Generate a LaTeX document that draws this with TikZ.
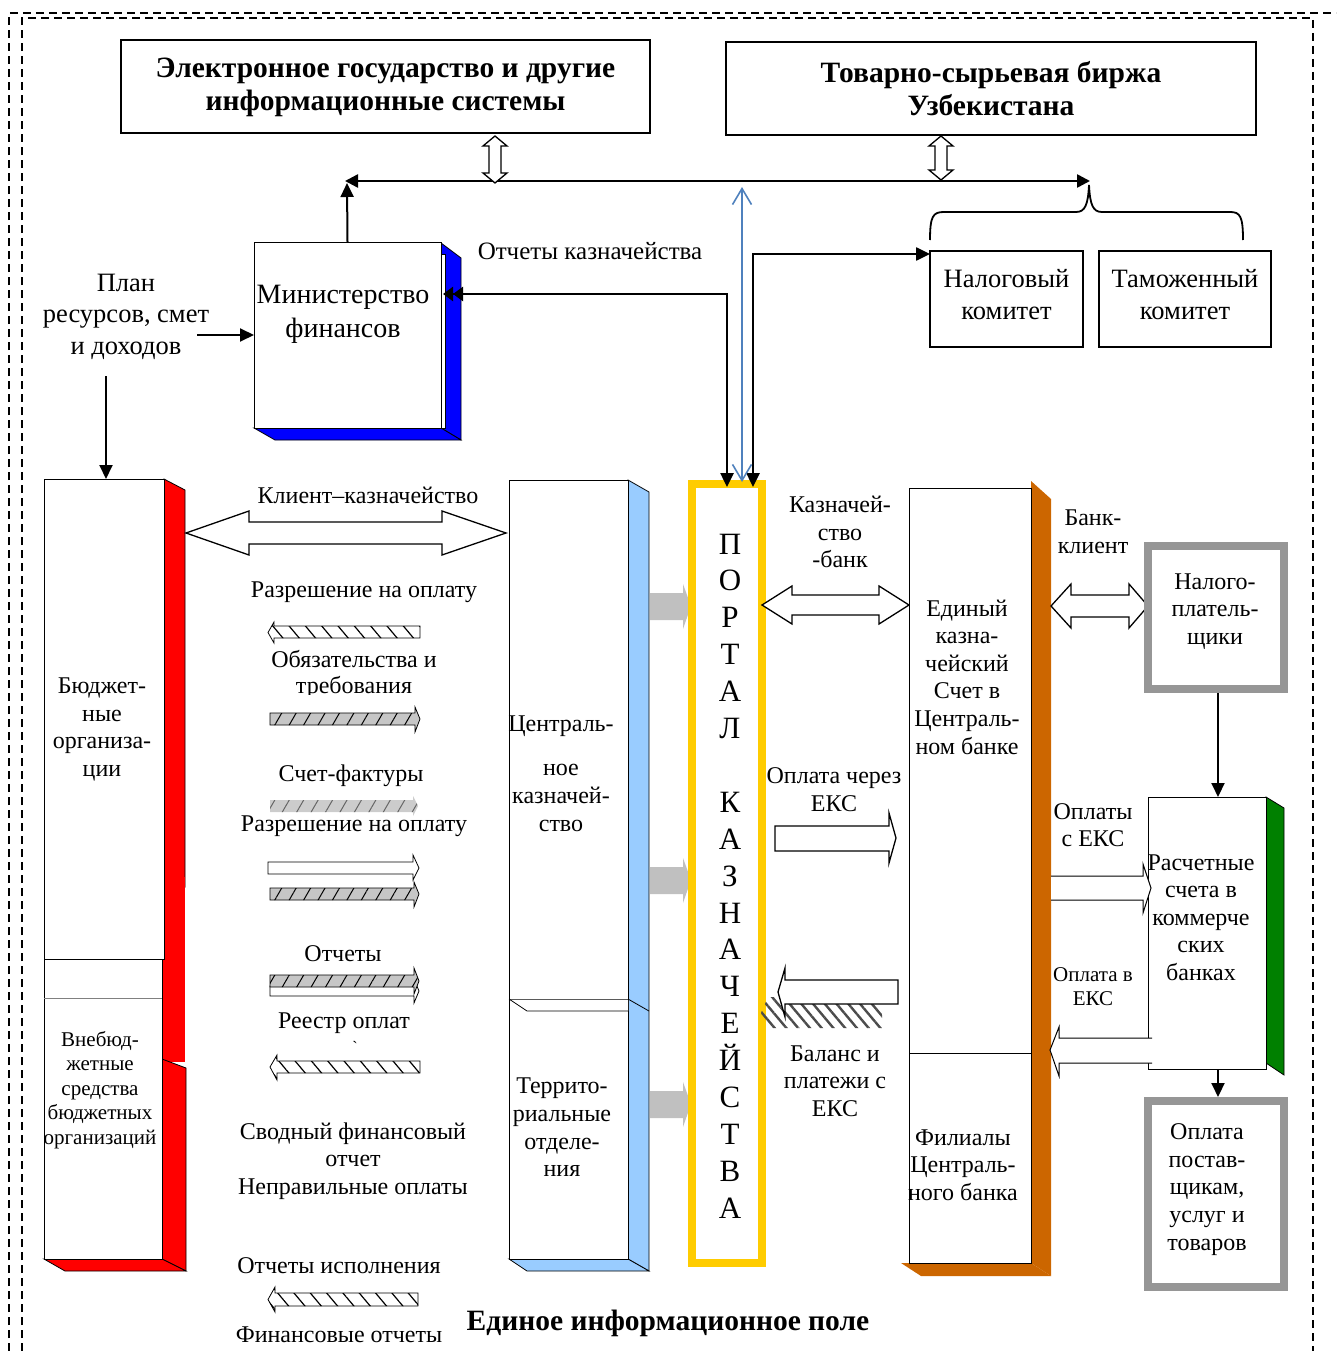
\documentclass[tikz,border=0pt]{standalone}
\usepackage{fontspec}
\setmainfont{Liberation Serif}
\newfontfamily\plainf{Liberation Serif}
\usetikzlibrary{arrows.meta,patterns.meta}
\definecolor{yel}{HTML}{FFCC00}
\definecolor{lblue}{HTML}{99CCFF}
\definecolor{orng}{HTML}{CC6600}
\definecolor{grn}{HTML}{008000}
\definecolor{mblue}{HTML}{0000FF}
\definecolor{bline}{HTML}{4F81BD}
\definecolor{gbox}{HTML}{969696}
\definecolor{garr}{HTML}{C0C0C0}
\tikzset{
  every node/.style={inner sep=0pt, outer sep=0pt},
  f24/.style={align=center, font=\fontsize{24}{27.6}\selectfont},
  f21/.style={align=center, font=\fontsize{21}{24.5}\selectfont},
  f27/.style={align=center, font=\fontsize{26.5}{31.5}\selectfont},
  f28/.style={align=center, font=\fontsize{28}{34}\selectfont},
  f25/.style={align=center, font=\fontsize{25}{29}\selectfont},
  fB/.style={align=center, font=\fontsize{29.5}{33}\selectfont\bfseries},
  fP/.style={align=center, font=\fontsize{31}{36.9}\selectfont},
  tbox/.style={draw, line width=2pt},
  cbox/.style={draw, line width=1.8pt},
  face/.style={draw=black, line width=0.8pt, fill=white},
  side/.style={draw=black, line width=0.8pt},
  thickbox/.style={draw=gbox, line width=8pt},
  conn/.style={line width=2.5pt},
  hollow/.style={draw=black, line width=1.3pt, fill=white},
  tri/.tip={Triangle[length=14pt,width=13pt]},
  arr/.style={line width=2pt, -tri},
  hatR/.style={fill=gray!45, draw=black, line width=0.8pt,
     postaction={pattern={Lines[angle=60,distance=12.5pt,line width=1pt]}}},
  hatL/.style={fill=white, draw=black, line width=0.8pt,
     postaction={pattern={Lines[angle=-50,distance=12.5pt,line width=1.2pt]}}},
  frame/.style={line width=1.2pt, dash pattern=on 8pt off 5pt},
}
\begin{document}
\begin{tikzpicture}[x=1pt,y=-1pt]
\useasboundingbox (0,0) rectangle (1336,1351);

% ---------- dashed frame
\draw[frame] (9,1351) -- (9,13) -- (1336,13);
\draw[frame] (22,1351) -- (22,18) -- (1313,18) -- (1313,1351);

% ---------- top boxes
\node[tbox, minimum width=529, minimum height=93] (egov) at (385.5,86.5) {};
\node[fB] (egov-t) at (385.5,87) {Электронное государство и другие\\информационные системы};
\node[tbox, minimum width=530, minimum height=93] (birzha) at (991,88.5) {};
\node[fB] (birzha-t) at (991,89) {Товарно-сырьевая биржа\\Узбекистана};

% ---------- top bus
\coordinate (busL) at (345,181);
\coordinate (busR) at (1090,181);
\draw[conn, {Triangle[length=13pt,width=13pt]}-{Triangle[length=13pt,width=13pt]}] (busL) -- (busR);

% hollow vertical double arrows
\draw[hollow] (495,136) -- (507,146) -- (501,146) -- (501,173) -- (507,173) -- (495,183)
   -- (483,173) -- (489,173) -- (489,146) -- (483,146) -- cycle;
\draw[hollow] (941,136) -- (953,146) -- (947,146) -- (947,170) -- (953,170) -- (941,180)
   -- (929,170) -- (935,170) -- (935,146) -- (929,146) -- cycle;

% brace
\draw[line width=1.8pt] (930,240) .. controls (930,216) and (933,212) .. (944,212)
   -- (1076,212) .. controls (1085,212) and (1088,205) .. (1089,185)
   .. controls (1090,205) and (1093,212) .. (1102,212)
   -- (1230,212) .. controls (1240,212) and (1243,216) .. (1243,240);

% committees
\node[cbox, minimum width=153, minimum height=96] (nalog) at (1006.5,299) {};
\node[f27] (nalog-t) at (1006.5,294.5) {Налоговый\\комитет};
\node[cbox, minimum width=172, minimum height=96] (tamozh) at (1185,299) {};
\node[f27] (tamozh-t) at (1185,294.5) {Таможенный\\комитет};

% ---------- Ministry of finance (3D)
\fill[mblue, side] (441,243) -- (461,258) -- (461,440) -- (441,428) -- cycle;
\fill[mblue, side] (254,428) -- (441,428) -- (461,440) -- (275,440) -- cycle;
\filldraw[fill=white, draw=black, line width=0.6pt] (441,254) rectangle (445.5,428);
\node[face, minimum width=187, minimum height=186] (minfin) at (347.5,335) {};
\node[f28] (minfin-t) at (343,314) {Министерство\\финансов};
\draw[arr] (minfin.north) -- (347,183);

% plan
\node[f27] (plan) at (126,316.5) {План\\ресурсов, смет\\и доходов};
\coordinate (planR) at (197,335);
\draw[arr] (planR) -- (minfin.west);
\coordinate (planD) at (106,376);

% ---------- Budget organisations (3D, red)
\fill[red, side] (164,479) -- (185,490) -- (185,887) -- (164,877) -- cycle;
\fill[red] (162,877) rectangle (185,1062);
\fill[red, side] (162,1059) -- (186,1068) -- (186,1271) -- (162,1259) -- cycle;
\fill[red, side] (44,1259) -- (162,1259) -- (186,1271) -- (65,1271) -- cycle;
\node[face, minimum width=120, minimum height=480] (budget) at (104,719) {};
\node[face, minimum width=118, minimum height=300] (extra) at (103,1109) {};
\draw[gray, line width=0.8pt] (44,998) -- (162,998);
\node[f24] (budget-t) at (102,729.5) {Бюджет-\\ные\\организа-\\ции};
\node[f21] (extra-t) at (100,1090) {Внебюд-\\жетные\\средства\\бюджетных\\организаций};
\draw[arr] (planD) -- (106,479);

% ---------- Central treasury (3D, light blue)
\fill[lblue, side] (628,480) -- (649,492) -- (649,1271) -- (628,1259) -- cycle;
\fill[lblue, side] (509,1259) -- (628,1259) -- (649,1271) -- (527,1271) -- cycle;
\node[face, minimum width=119, minimum height=519] (ctreas) at (568.5,739.5) {};
\node[face, minimum width=119, minimum height=260] (terr) at (568.5,1129) {};
\fill[white] (509.5,999.5) -- (628,999.5) -- (628,1011) -- (527,1011) -- cycle;
\draw[line width=0.8pt] (509,999) -- (527,1011) -- (628,1011);
\draw[line width=0.8pt] (628,999) -- (649,1011);
\node[f24] (ctreas-t1) at (561,726) {Централь-};
\node[f24] (ctreas-t2) at (561,798) {ное\\казначей-\\ство};
\node[f24] (terr-t) at (562,1127.5) {Террито-\\риальные\\отделе-\\ния};

% gray block arrows into portal
\foreach \yy in {606,880,1104}{
  \fill[garr] (650,\yy-13) -- (683,\yy-13) -- (683,\yy-22) -- (691,\yy) -- (683,\yy+23)
     -- (683,\yy+14) -- (650,\yy+14) -- cycle;
}

% ---------- Client - treasury
\node[f24] (kk) at (368,495) {Клиент–казначейство};
\draw[hollow] (186,533) -- (249,511) -- (249,522) -- (442,522) -- (442,511) -- (506,533)
   -- (442,555) -- (442,544) -- (249,544) -- (249,555) -- cycle;

% small document arrows
\node[f24] (l1) at (364,592) {Разрешение на оплату};
\path[hatL] (268,632.5) -- (274,622) -- (274,626) -- (420,626) -- (420,638) -- (274,638) -- (274,643) -- cycle;
\node[f24] (l2) at (354,659.5) {Обязательства и};
\begin{scope}
  \clip (250,668) rectangle (460,694);
  \node[f24] (l2b) at (354,687.5) {требования};
\end{scope}
\path[hatR] (270,713) -- (415,713) -- (415,707) -- (420,719) -- (415,732) -- (415,725) -- (270,725) -- cycle;
\node[f24] (l3) at (351,776) {Счет-фактуры};
\path[fill=gray!40, postaction={pattern={Lines[angle=60,distance=12.5pt,line width=1pt]}, pattern color=gray!80!black}]
   (270,800) -- (413,800) -- (413,796) -- (418,806) -- (413,816) -- (413,812) -- (270,812) -- cycle;
\node[f24] (l4) at (354,826) {Разрешение на оплату};
\path[fill=white, draw=black, line width=0.8pt] (268,862) -- (413,862) -- (413,855) -- (419,868) -- (413,880) -- (413,874) -- (268,874) -- cycle;
\path[hatR] (270,888) -- (414,888) -- (414,882) -- (419,894) -- (414,907) -- (414,900) -- (270,900) -- cycle;
\node[f24] (l5) at (343,954) {Отчеты};
\path[fill=white, draw=black, line width=0.8pt] (270,986) -- (414,986) -- (414,979) -- (419,991) -- (414,1003) -- (414,996) -- (270,996) -- cycle;
\path[hatR] (270,975) -- (414,975) -- (414,968) -- (419,981) -- (414,994) -- (414,987) -- (270,987) -- cycle;
\node[f24] (l6) at (344,1023.5) {Реестр оплат};
\node[font=\fontsize{16}{18}\plainf] (l6b) at (355,1047) {`};
\path[hatL] (270,1067) -- (277,1055) -- (277,1061) -- (420,1061) -- (420,1073) -- (277,1073) -- (277,1080) -- cycle;
\node[f24] (l7) at (353,1161) {Сводный финансовый\\отчет\\Неправильные оплаты};
\node[f24] (l8) at (339,1266) {Отчеты исполнения};
\path[hatL] (268,1299.5) -- (275,1287) -- (275,1293) -- (418,1293) -- (418,1306) -- (275,1306) -- (275,1312) -- cycle;
\node[f24] (l9) at (339,1335) {Финансовые отчеты};

% ---------- Portal
\node[draw=yel, line width=8pt, minimum width=70, minimum height=779] (portal) at (727,873.5) {};
\node[fP] (portal-t) at (730,876) {П\\О\\Р\\Т\\А\\Л\\[36.9pt]К\\А\\З\\Н\\А\\Ч\\Е\\Й\\С\\Т\\В\\А};

% connectors to portal
\node[f25] (otk) at (590,251) {Отчеты казначейства};
\coordinate (mfR) at (443,294);
\coordinate (pA) at (727,487);
\coordinate (pB) at (753,487);
\coordinate (pC) at (742,482);
\coordinate (busC) at (742,187);
\coordinate (nalIn) at (930,254);
\draw[conn, {Triangle[length=10pt,width=14pt]Triangle[length=10pt,width=14pt]}-tri] (mfR) -| (pA);
\draw[conn, tri-tri] (pB) |- (nalIn);
\draw[bline, line width=1.6pt, {Straight Barb[length=16pt,width=19pt]}-{Straight Barb[length=16pt,width=19pt]}] (pC) -- (busC);

% ---------- Treasury - bank
\node[f24] (kb) at (840,532) {Казначей-\\ство\\-банк};
\draw[hollow] (762,605) -- (792,586) -- (792,595) -- (879,595) -- (879,586) -- (909,605)
   -- (879,624) -- (879,615) -- (792,615) -- (792,624) -- cycle;
\node[f24] (opl1) at (834,789.5) {Оплата через\\ЕКС};
\draw[hollow] (775,826) -- (889,826) -- (889,813) -- (896,838) -- (889,863) -- (889,851) -- (775,851) -- cycle;
% balance arrow with hatched shadow
\path[pattern={Lines[angle=-50,distance=9pt,line width=2.4pt]}, pattern color=gray!60!black]
   (761,1013) -- (768,997) -- (882,997) -- (882,1028) -- (768,1028) -- cycle;
\draw[hollow] (898,980) -- (785,980) -- (785,968) -- (778,992) -- (785,1017) -- (785,1004) -- (898,1004) -- cycle;
\node[f24] (bal) at (835,1081) {Баланс и\\платежи с\\ЕКС};

% ---------- Single treasury account (3D, orange)
\fill[orng] (1031,481) -- (1051,499) -- (1051,1276) -- (1031,1263) -- cycle;
\fill[orng] (901,1263) -- (1031,1263) -- (1051,1276) -- (921,1276) -- cycle;
\node[face, minimum width=122, minimum height=565] (eks) at (970,770.5) {};
\node[face, minimum width=122, minimum height=210] (fil) at (970,1158) {};
\node[f24] (eks-t) at (967,677) {Единый\\казна-\\чейский\\Счет в\\Централь-\\ном банке};
\node[f24] (fil-t) at (963,1165) {Филиалы\\Централь-\\ного банка};

% ---------- Bank - client
\node[f24] (bk) at (1093,532) {Банк-\\клиент};
\draw[hollow] (1051,606) -- (1071,584) -- (1071,595) -- (1129,595) -- (1129,584) -- (1148,606)
   -- (1129,628) -- (1129,617) -- (1071,617) -- (1071,628) -- cycle;

% taxpayers
\node[thickbox, minimum width=136, minimum height=143] (taxp) at (1216,617.5) {};
\node[f24] (taxp-t) at (1215,611.5) {Налого-\\платель-\\щики};

% commercial banks (3D, green)
\fill[grn, side] (1266,797) -- (1284,808) -- (1284,1075) -- (1266,1063) -- cycle;
\node[face, minimum width=118, minimum height=272] (rasch) at (1207,933) {};
\node[f24] (rasch-t) at (1201,917.5) {Расчетные\\счета в\\коммерче\\ских\\банках};
\coordinate (taxpS) at (1218,693);
\coordinate (raschN) at (1218,797);
\draw[arr] (taxpS) -- (raschN);

% payments to suppliers
\node[thickbox, minimum width=136, minimum height=186] (supp) at (1216,1194) {};
\node[f24] (supp-t) at (1207,1189.5) {Оплата\\постав-\\щикам,\\услуг и\\товаров};
\coordinate (raschS) at (1218,1069);
\coordinate (suppN) at (1218,1097);
\draw[arr] (raschS) -- (suppN);

% EKS <-> commercial banks
\node[f24] (ops) at (1093,825) {Оплаты\\с ЕКС};
\draw[fill=white, draw=black, line width=1pt] (1051,876) -- (1143,876) -- (1143,864) -- (1151,888) -- (1143,913) -- (1143,900) -- (1051,900);
\node[f21] (opv) at (1093,986.5) {Оплата в\\ЕКС};
\draw[fill=white, draw=black, line width=1pt] (1152,1038) -- (1059,1038) -- (1059,1027) -- (1050,1050) -- (1059,1076) -- (1059,1063) -- (1152,1063);

% caption
\node[fB] (cap) at (668,1323) {Единое информационное поле};
\end{tikzpicture}
\end{document}
